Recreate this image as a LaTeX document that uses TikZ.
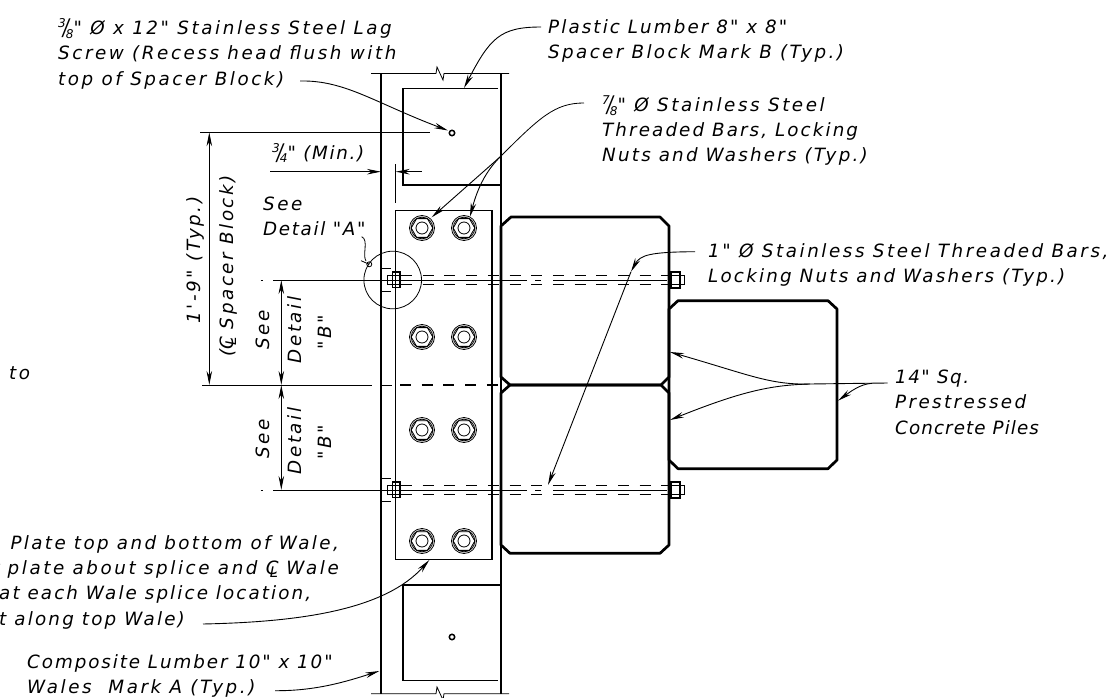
\documentclass[tikz,border=0pt]{standalone}
\usepackage{fontspec}
\setmainfont{DejaVu Sans}[Ligatures=TeXOff,LetterSpace=14]
\usetikzlibrary{arrows.meta,positioning,calc}
\newcommand{\frc}[2]{\raisebox{.7ex}{\scalebox{.66}{#1}}\kern-.17em\raisebox{-.1ex}{\scalebox{1}[1.25]{/}}\kern-.17em\raisebox{-.35ex}{\scalebox{.66}{#2}}}
\newcommand{\clmark}{\makebox[0pt][l]{C}\raisebox{-.3ex}{\kern.22em\scalebox{.8}{L}}}
\newcommand{\ls}[2]{{\addfontfeature{LetterSpace=#1}#2}}
\tikzset{
  lbl_txt/.style = {align=left, anchor=north west, inner sep=0pt, font=\fontsize{18.3}{25.2}\selectfont\itshape},
  rot_txt/.style = {inner sep=0pt, rotate=90, font=\fontsize{18.3}{25}\selectfont\itshape},
  wale_ln/.style = {line width=1.5pt},
  pile_ln/.style = {line width=2.7pt, line join=round},
  thin_ln/.style = {line width=0.8pt},
  plate_ln/.style = {line width=1.1pt},
  rod_ln/.style = {line width=1.4pt, dash pattern=on 11pt off 10.7pt},
  lead_ln/.style = {line width=0.9pt, -{Stealth[length=14pt,width=5.5pt]}},
  dim_ln/.style = {line width=0.9pt, {Stealth[length=14pt,width=5.5pt]}-{Stealth[length=14pt,width=5.5pt]}}
}
\begin{document}
\begin{tikzpicture}[x=1pt,y=-1pt]
  \useasboundingbox (0,0) rectangle (1111,698);
  % wales
  \draw[wale_ln] (381,73.5) -- (381,694);
  \draw[wale_ln] (501,73.5) -- (501,694);
  \draw[thin_ln] (371,73.5) -- (436,73.5) -- (437,67) -- (443,80) -- (444,73.5) -- (509,73.5);
  \draw[thin_ln] (371,693.7) -- (436,693.7) -- (437,687) -- (443,700) -- (444,693.7) -- (509,693.7);
  % spacer blocks
  \draw[wale_ln] (498,88.7) -- (403,88.7) -- (403,185) -- (501,185);
  \draw[wale_ln] (501,585) -- (403,585) -- (403,680.7) -- (498,680.7);
  \foreach \sy in {133,637}
    \draw[line width=1.5pt] (452,\sy) circle (2.7pt);
  % plate and bars
  \draw[plate_ln] (395.3,210.7) rectangle (492,559.3);
  \foreach \bx in {422,464}
    \foreach \by in {228,337,430,541} {
      \draw[thin_ln] (\bx,\by) circle (12.5pt) circle (10.8pt) circle (6pt);
      \draw[thin_ln] (\bx,\by) ++(0:10.8) -- ++(120:10.8) -- ++(180:10.8) -- ++(240:10.8) -- ++(300:10.8) -- ++(0:10.8) -- cycle;
    }
  % piles
  \draw[pile_ln] (511,217) -- (660,217) -- (669,226) -- (669,377) -- (661,385) -- (510,385) -- (501,377) -- (501,226) -- cycle;
  \draw[pile_ln] (510,385) -- (661,385) -- (669,393) -- (669,545) -- (660,553.3) -- (510,553.3) -- (501,545) -- (501,393) -- cycle;
  \draw[pile_ln] (678,300.7) -- (828,300.7) -- (837,309) -- (837,460) -- (828,468.7) -- (678,468.7) -- (669,460) -- (669,309) -- cycle;
  % through rods
  \foreach \ry in {280,490} {
    \draw[rod_ln] (401,\ry-4.6) -- (668,\ry-4.6);
    \draw[rod_ln] (401,\ry+4.6) -- (668,\ry+4.6);
    \draw[thin_ln] (273,\ry) -- (527,\ry) (535,\ry) -- (541,\ry) (553,\ry) -- (667,\ry);
    \draw[thin_ln] (260.5,\ry) -- (263,\ry);
    \draw[thin_ln] (381,\ry-11.5) -- (391,\ry-11.5) (381,\ry+11) -- (391,\ry+11);
    \draw[thin_ln] (387,\ry-4.5) rectangle (392.5,\ry+4.5);
    \draw[plate_ln] (392.5,\ry-8) rectangle (400,\ry+7.5);
    \draw[plate_ln] (392.5,\ry-4.5) -- (400,\ry-4.5) (392.5,\ry+4.5) -- (400,\ry+4.5);
    \draw[line width=2pt] (400,\ry-8) -- (400,\ry+7.5);
    \draw[plate_ln] (671,\ry-8) rectangle (680,\ry+8);
    \draw[plate_ln] (671,\ry-4.5) -- (680,\ry-4.5) (671,\ry+4.5) -- (680,\ry+4.5);
    \draw[thin_ln] (680,\ry-4.5) rectangle (684,\ry+4.5);
  }
  \draw[thin_ln] (392.7,280) circle (28.8pt);
  % dimensions
  \draw[thin_ln] (200,132.3) -- (430,132.3);
  \draw[thin_ln] (202,385) -- (372,385);
  \draw[thin_ln] (381,385) -- (392,385);
  \draw[rod_ln] (400,385) -- (500,385);
  \coordinate (dim_top) at (209.3,132.3);
  \coordinate (dim_mid) at (209.3,385);
  \draw[dim_ln] (dim_top) -- (dim_mid);
  \coordinate (det_a) at (281.3,280);
  \coordinate (det_b) at (281.3,385);
  \coordinate (det_c) at (281.3,490);
  \draw[dim_ln] (det_a) -- (det_b);
  \draw[dim_ln] (det_b) -- (det_c);
  \coordinate (min_a) at (270,171.7);
  \coordinate (min_b) at (381,171.7);
  \coordinate (min_c) at (395.7,171.7);
  \coordinate (min_d) at (421.7,171.7);
  \draw[lead_ln] (min_a) -- (min_b);
  \draw[lead_ln] (min_d) -- (min_c);
  \draw[thin_ln] (395.7,164) -- (395.7,203);
  % labels
  \node[lbl_txt] (lbl_screw) at (58,18.5) {\frc{3}{8}" Ø x 12" Stainless Steel Lag\\Screw (Recess head flush with\\top of Spacer Block)};
  \node[lbl_txt] (lbl_spacer) at (548,19.5) {\ls{11.5}{Plastic Lumber 8" x 8"}\\\ls{13}{Spacer Block Mark B (Typ.)}};
  \node[lbl_txt] (lbl_thread) at (602,95.5) {\frc{7}{8}" Ø Stainless Steel\\\ls{11.5}{Threaded Bars, Locking}\\\ls{12}{Nuts and Washers (Typ.)}};
  \node[lbl_txt] (lbl_min) at (272,143) {\ls{9}{\frc{3}{4}" (Min.)}};
  \node[lbl_txt] (lbl_see) at (263,197) {See\\\ls{9}{Detail "A"}};
  \node[lbl_txt] (lbl_rods) at (708,243) {1" Ø Stainless Steel Threaded Bars,\\\ls{12}{Locking Nuts and Washers (Typ.)}};
  \node[lbl_txt] (lbl_piles) at (895,370) {\ls{8}{14" Sq.}\\\ls{13}{Prestressed}\\\ls{6}{Concrete Piles}};
  \node[lbl_txt] (lbl_to) at (9,366) {to};
  \node[lbl_txt, anchor=north east, align=right] (lbl_plate) at (339,535) {\ls{13}{Plate top and bottom of Wale,}\\r plate about splice and \clmark\ Wale};
  \node[lbl_txt, anchor=north west] (lbl_splice) at (-1,585) {\ls{11.5}{at each Wale splice location,}};
  \node[lbl_txt, anchor=north west] (lbl_along) at (-1,611) {\ls{12}{t along top Wale)}};
  \node[lbl_txt] (lbl_wales) at (27,654) {\ls{10.5}{Composite Lumber 10" x 10"}\\Wales~~Mark A (Typ.)};
  \node[rot_txt] (lbl_typ) at (195,260) {1'-9" (Typ.)};
  \node[rot_txt] (lbl_cl) at (228,266) {(\clmark\ Spacer Block)};
  \node[rot_txt] (see_a) at (263,330) {See};
  \node[rot_txt] (det_a_txt) at (295,330) {Detail};
  \node[rot_txt] (b_a) at (325,332) {"B"};
  \node[rot_txt] (see_b) at (263,439) {See};
  \node[rot_txt] (det_b_txt) at (295,441) {Detail};
  \node[rot_txt] (b_b) at (325,442) {"B"};
  % leaders
  \coordinate (screw_s) at (300,81);
  \coordinate (screw_e) at (448,130.5);
  \draw[lead_ln] (screw_s) .. controls (345,80) and (375,103) .. (screw_e);
  \coordinate (spacer_s) at (541,27);
  \coordinate (spacer_e) at (464,88);
  \draw[lead_ln] (spacer_s) .. controls (500,27) and (490,38) .. (spacer_e);
  \coordinate (thread_s) at (584,103);
  \coordinate (thread_m) at (500,157);
  \coordinate (thread_a) at (431.7,217.3);
  \coordinate (thread_b) at (470,216.7);
  \draw[thin_ln] (thread_s) .. controls (555,103) and (540,117) .. (thread_m);
  \draw[lead_ln] (thread_m) -- (thread_a);
  \draw[lead_ln] (thread_m) .. controls (485,172) and (477,190) .. (thread_b);
  \coordinate (rods_s) at (695,251.7);
  \coordinate (rods_a) at (631,271.7);
  \coordinate (rods_b) at (548,485);
  \draw[lead_ln] (rods_s) .. controls (650,252) and (640,255) .. (rods_a);
  \draw[lead_ln] (rods_a) -- (rods_b);
  \coordinate (piles_s) at (887.7,383);
  \coordinate (piles_a) at (670,352);
  \coordinate (piles_b) at (670,420);
  \coordinate (piles_c) at (838,400.7);
  \draw[lead_ln] (piles_s) -- (810,384) .. controls (770,385) and (750,375) .. (piles_a);
  \draw[lead_ln] (810,384) .. controls (770,385) and (740,392) .. (piles_b);
  \draw[lead_ln] (872,383.3) .. controls (860,384) and (850,392) .. (piles_c);
  \coordinate (plate_s) at (203,624);
  \coordinate (plate_e) at (429.3,560);
  \draw[lead_ln] (plate_s) .. controls (300,622) and (385,610) .. (plate_e);
  \coordinate (wales_s) at (275,690.7);
  \coordinate (wales_e) at (379.3,671);
  \draw[lead_ln] (wales_s) .. controls (315,691) and (345,682) .. (wales_e);
  \coordinate (see_s) at (361.7,236.7);
  \coordinate (see_e) at (369.3,264.3);
  \draw[thin_ln] (see_s) .. controls (369,240) and (362,255) .. (366,261);
  \draw[thin_ln] (see_e) circle (2.5pt);
  \draw[thin_ln] (361,260.7) -- (see_e);
\end{tikzpicture}
\end{document}
